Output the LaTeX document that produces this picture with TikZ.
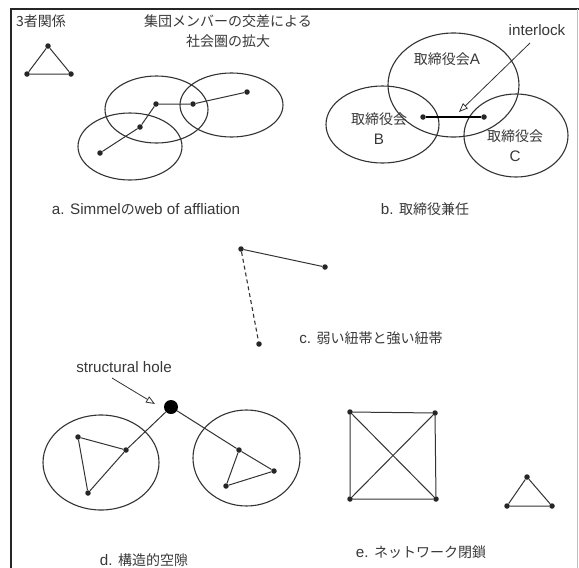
\documentclass[tikz,border=0pt]{standalone}
\usepackage{fontspec}
\setmainfont{Liberation Sans}
\newfontfamily\cjk{Noto Sans CJK JP}
\newcommand\jp[1]{{\cjk\fontsize{14}{17}\selectfont #1}}
\usetikzlibrary{arrows.meta}
\begin{document}
\begin{tikzpicture}[x=1pt,y=-1pt,
  dot/.style={circle,fill=black!85,inner sep=0pt,minimum size=5.5pt},
  bigdot/.style={circle,fill=black,inner sep=0pt,minimum size=14pt},
  edge/.style={draw=black!80,line width=1pt},
  thickedge/.style={draw=black,line width=2.4pt},
  weak/.style={draw=black!80,line width=1.1pt,dash pattern=on 4pt off 3pt},
  ring/.style={draw=black!80,line width=1.1pt},
  lbl/.style={text=black!78,font=\fontsize{15.2}{17}\selectfont,inner sep=0pt},
  pointer/.style={draw=black!80,line width=0.8pt,-{Triangle[open,length=9pt,width=7pt]}}
]
\useasboundingbox (0,0) rectangle (579,568);
\fill[white] (0,0) rectangle (579,568);
% frame
\draw[black!85,line width=1.6pt] (11,568) -- (11,9) -- (579,9);
\draw[black!25,line width=0.8pt] (577,9) -- (577,568);

% top-left triad
\node[lbl,anchor=west] (t3) at (16,21) {\jp{3者関係}};
\node[dot] (ta) at (48,46) {};
\node[dot] (tb) at (27,74) {};
\node[dot] (tc) at (71,74) {};
\draw[edge] (ta) -- (tb) -- (tc) -- (ta);

% a. Simmel
\node[lbl,align=center] (title) at (228,31) {\jp{集団メンバーの交差による}\\[3pt]\jp{社会圏の拡大}};
\draw[ring] (156.5,109.5) ellipse [x radius=51.5, y radius=33.5];
\draw[ring] (231.5,105) ellipse [x radius=51.5, y radius=32];
\draw[ring] (130,146.5) ellipse [x radius=52, y radius=33.5];
\node[dot] (a1) at (100,153) {};
\node[dot] (a2) at (140,127) {};
\node[dot] (a3) at (156,104) {};
\node[dot] (a4) at (193,104) {};
\node[dot] (a5) at (247,92) {};
\draw[edge] (a1) -- (a2) -- (a3) -- (a4) -- (a5);
\node[lbl] (la) at (146,209) {a. Simmel\jp{の}web of affliation};

% b. interlock
\draw[ring] (453.5,85) ellipse [x radius=65.5, y radius=52];
\draw[ring] (382.5,124.5) ellipse [x radius=56.5, y radius=38.5];
\draw[ring] (516,135.5) ellipse [x radius=52, y radius=41.5];
\node[lbl] (bA) at (447,59) {\jp{取締役会}A};
\node[lbl,align=center] (bB) at (379,129) {\jp{取締役会}\\[3pt]B};
\node[lbl,align=center] (bC) at (515,146) {\jp{取締役会}\\[3pt]C};
\node[dot] (b1) at (423,117) {};
\node[dot] (b2) at (484,117) {};
\draw[thickedge] (b1) -- (b2);
\node[lbl] (il) at (537,30) {interlock};
\coordinate (ilfrom) at (530,43);
\coordinate (ilto) at (459,112);
\draw[pointer] (ilfrom) -- (ilto);
\node[lbl] (lb) at (425,209) {b. \jp{取締役兼任}};

% c. weak and strong ties
\node[dot] (c1) at (241,249) {};
\node[dot] (c2) at (325,267) {};
\node[dot] (c3) at (259,344) {};
\draw[edge] (c1) -- (c2);
\draw[weak] (c1) -- (c3);
\node[lbl] (lc) at (371,338) {c. \jp{弱い紐帯と強い紐帯}};

% d. structural hole
\node[lbl] (sh) at (124,367) {structural hole};
\coordinate (shfrom) at (112,378);
\coordinate (shto) at (155,404);
\draw[pointer] (shfrom) -- (shto);
\node[bigdot] (hole) at (171,407) {};
\draw[ring] (101,462.5) ellipse [x radius=58, y radius=47.5];
\draw[ring] (246.5,458) ellipse [x radius=53.5, y radius=48];
\node[dot] (d1) at (78,437) {};
\node[dot] (d2) at (126,450) {};
\node[dot] (d3) at (88,493) {};
\node[dot] (d4) at (239,450) {};
\node[dot] (d5) at (274,471) {};
\node[dot] (d6) at (226,486) {};
\draw[edge] (d1) -- (d2) -- (d3) -- (d1);
\draw[edge] (d4) -- (d5) -- (d6) -- (d4);
\draw[edge] (hole) -- (d2);
\draw[edge] (hole) -- (d4);
\node[lbl] (ld) at (144,560) {d. \jp{構造的空隙}};

% e. network closure
\node[dot] (e1) at (350,412) {};
\node[dot] (e2) at (435,413) {};
\node[dot] (e3) at (350,499) {};
\node[dot] (e4) at (436,499) {};
\draw[edge] (e1) -- (e2) -- (e4) -- (e3) -- (e1);
\draw[edge] (e1) -- (e4);
\draw[edge] (e2) -- (e3);
\node[dot] (f1) at (527,477) {};
\node[dot] (f2) at (507,506) {};
\node[dot] (f3) at (552,506) {};
\draw[edge] (f1) -- (f2) -- (f3) -- (f1);
\node[lbl] (le) at (421,552) {e. \jp{ネットワーク閉鎖}};
\end{tikzpicture}
\end{document}
